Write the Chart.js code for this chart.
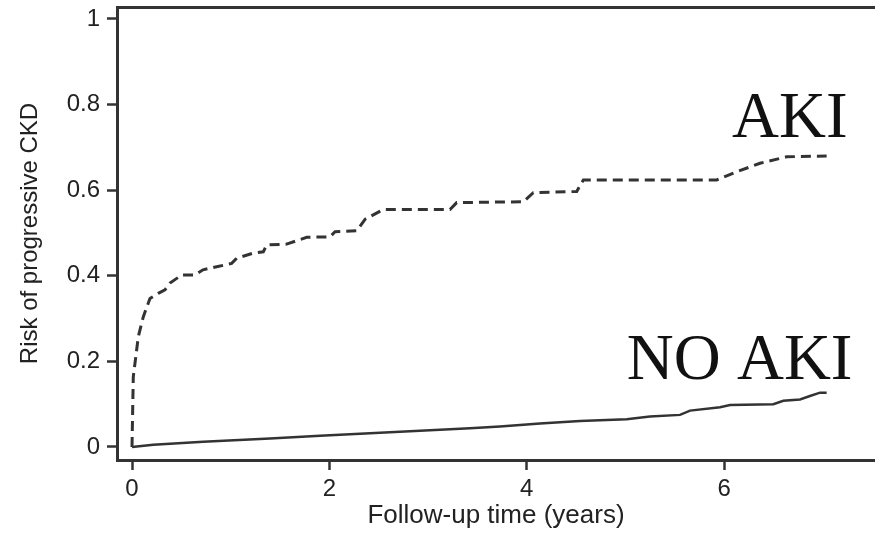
<!DOCTYPE html>
<html>
<head>
<meta charset="utf-8">
<script src="https://cdn.jsdelivr.net/npm/chart.js@4"></script>
<style>
    html, body { margin: 0; padding: 0; background: #fff; overflow: hidden; }
    #wrap { width: 875px; height: 534px; position: relative; }
</style>
</head>
<body>
<div id="wrap"><canvas id="km-chart"></canvas></div>
<script>
// cumulative risk
var akiTime = [0, 0.013, 0.064, 0.114, 0.182, 0.266, 0.334, 0.385, 0.504, 0.638, 0.719, 0.858, 1.01, 1.061,
    1.229, 1.33, 1.365, 1.567, 1.669, 1.77, 2.006, 2.057, 2.277, 2.361, 2.546, 3.222, 3.29, 3.965, 4.066,
    4.506, 4.573, 5.924, 6.127, 6.363, 6.633, 7.038];
var akiRisk = [0, 0.164, 0.258, 0.304, 0.347, 0.359, 0.367, 0.383, 0.402, 0.402, 0.414, 0.421, 0.429, 0.441,
    0.453, 0.456, 0.472, 0.474, 0.482, 0.49, 0.491, 0.503, 0.505, 0.532, 0.555, 0.555, 0.571, 0.573, 0.594,
    0.597, 0.624, 0.624, 0.643, 0.663, 0.678, 0.68];
var noAkiTime = [0, 0.216, 0.722, 1.398, 1.905, 2.411, 2.918, 3.425, 3.728, 4.134, 4.539, 5.012, 5.248,
    5.552, 5.654, 5.958, 6.059, 6.498, 6.599, 6.768, 6.869, 6.971, 7.038];
var noAkiRisk = [0, 0.005, 0.012, 0.02, 0.026, 0.032, 0.038, 0.044, 0.048, 0.055, 0.061, 0.065, 0.071,
    0.075, 0.085, 0.093, 0.098, 0.1, 0.108, 0.111, 0.119, 0.127, 0.127];
var xTicks = [0, 2, 4, 6];
var yTicks = [0, 0.2, 0.4, 0.6, 0.8, 1];

function toPoints(xs, ys) {
    return xs.map(function (x, i) { return {x: x, y: ys[i]}; });
}

var curveLabels = {
    id: 'curveLabels',
    afterDraw: function (chart) {
        var ctx = chart.ctx, sx = chart.scales.x, sy = chart.scales.y;
        ctx.save();
        ctx.font = '65px "Liberation Serif", "Times New Roman", serif';
        ctx.fillStyle = '#111';
        ctx.textAlign = 'right';
        ctx.textBaseline = 'alphabetic';
        ctx.fillText('AKI', sx.getPixelForValue(7.25), sy.getPixelForValue(0.724));
        ctx.fillText('NO AKI', sx.getPixelForValue(7.30), sy.getPixelForValue(0.159));
        ctx.restore();
    }
};

var tickFont = {family: 'Arial, "Liberation Sans", sans-serif', size: 24};

new Chart(document.getElementById('km-chart').getContext('2d'), {
    type: 'line',
    data: {
        datasets: [
            {
                label: 'AKI',
                data: toPoints(akiTime, akiRisk),
                borderColor: '#333',
                borderWidth: 3,
                borderDash: [10, 6],
                pointRadius: 0,
                tension: 0,
                xAxisID: 'x',
                yAxisID: 'y'
            },
            {
                label: 'NO AKI',
                data: toPoints(noAkiTime, noAkiRisk),
                borderColor: '#333',
                borderWidth: 2.5,
                pointRadius: 0,
                tension: 0,
                xAxisID: 'x',
                yAxisID: 'y'
            }
        ]
    },
    options: {
        responsive: true,
        maintainAspectRatio: false,
        animation: false,
        layout: {padding: {top: 7, right: 0, bottom: 0, left: 0}},
        plugins: {legend: {display: false}, tooltip: {enabled: false}},
        scales: {
            x: {
                type: 'linear',
                position: 'bottom',
                min: -0.152,
                max: 7.528,
                afterBuildTicks: function (scale) {
                    scale.ticks = xTicks.map(function (v) { return {value: v}; });
                },
                afterFit: function (scale) {
                    scale.height = 74;
                    scale.paddingLeft = 0;
                    scale.paddingRight = 0;
                },
                ticks: {color: '#222', font: tickFont, padding: 5, maxRotation: 0,
                    callback: function (v) { return String(v); }},
                grid: {drawOnChartArea: false, drawTicks: true, tickLength: 10, tickWidth: 2.5, tickColor: '#333'},
                border: {display: true, color: '#333', width: 3},
                title: {display: true, text: 'Follow-up time (years)', color: '#222',
                    font: {family: 'Arial, "Liberation Sans", sans-serif', size: 26}, padding: {top: 0, bottom: 3}}
            },
            x2: {
                type: 'linear',
                position: 'top',
                min: -0.152,
                max: 7.528,
                afterFit: function (scale) {
                    scale.height = 0;
                    scale.paddingLeft = 0;
                    scale.paddingRight = 0;
                },
                ticks: {display: false},
                grid: {drawOnChartArea: false, drawTicks: false},
                border: {display: true, color: '#333', width: 3}
            },
            y: {
                type: 'linear',
                position: 'left',
                min: -0.0304,
                max: 1.028,
                afterBuildTicks: function (scale) {
                    scale.ticks = yTicks.map(function (v) { return {value: v}; });
                },
                afterFit: function (scale) {
                    scale.width = 117;
                    scale.paddingTop = 0;
                    scale.paddingBottom = 0;
                },
                ticks: {color: '#222', font: tickFont, padding: 7,
                    callback: function (v) { return String(v); }},
                grid: {drawOnChartArea: false, drawTicks: true, tickLength: 10, tickWidth: 2.5, tickColor: '#333'},
                border: {display: true, color: '#333', width: 3},
                title: {display: true, text: 'Risk of progressive CKD', color: '#222',
                    font: {family: 'Arial, "Liberation Sans", sans-serif', size: 24}, padding: {top: 16, bottom: 0}}
            }
        }
    },
    plugins: [curveLabels]
});
</script>
</body>
</html>
